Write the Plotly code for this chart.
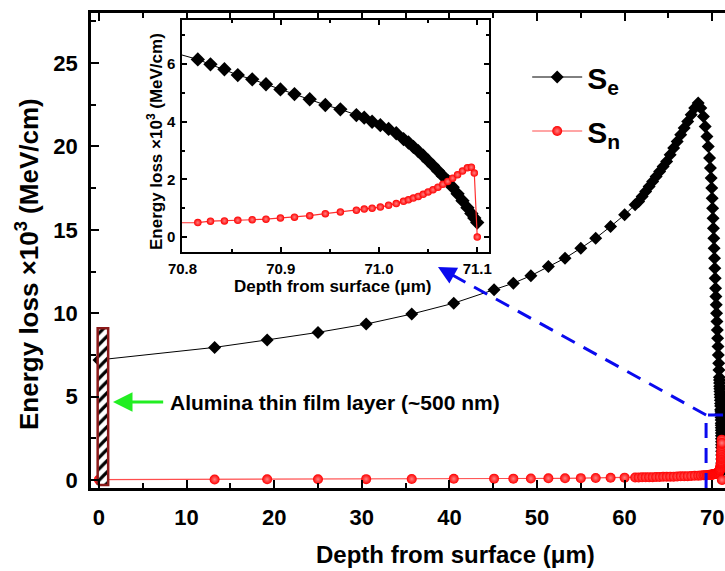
import plotly.graph_objects as go

# ---------------- data ----------------
depth = [0.0, 13.2, 19.2, 25.0, 30.5, 35.7, 40.5, 45.1, 47.3, 49.3, 51.3, 53.2, 55.0, 56.7, 58.4, 60.0, 61.2,
         61.6, 62.0, 62.4, 62.8, 63.2, 63.6, 64.0, 64.4, 64.8, 65.2, 65.6, 66.0, 66.4, 66.8, 67.2, 67.6, 68.0, 68.4,
         68.7, 69.0, 69.2, 69.4, 69.55, 69.7, 69.8, 69.88, 69.95, 70.0, 70.05, 70.1, 70.14, 70.18, 70.22, 70.26,
         70.3, 70.34, 70.38, 70.42, 70.46, 70.5, 70.54, 70.58, 70.62, 70.66, 70.7, 70.74, 70.77,
         70.8156, 70.8285, 70.8427, 70.8563, 70.871, 70.885, 70.8997, 70.914, 70.9295, 70.9454, 70.9607, 70.977,
         70.985, 70.993, 71.0014, 71.0098, 71.0176,
         71.025, 71.030, 71.035, 71.040, 71.045, 71.050, 71.055, 71.060, 71.065, 71.070, 71.075, 71.080,
         71.085, 71.090, 71.094, 71.097, 71.100]

se = [7.2, 7.95, 8.4, 8.85, 9.35, 9.95, 10.6, 11.4, 11.8, 12.25, 12.8, 13.3, 13.9, 14.5, 15.2, 15.9, 16.5,
      16.7, 17.0, 17.3, 17.6, 17.9, 18.2, 18.5, 18.8, 19.1, 19.5, 19.9, 20.3, 20.7, 21.1, 21.5, 21.9, 22.3, 22.6,
      22.3, 21.8, 21.2, 20.6, 20.0, 19.3, 18.7, 18.1, 17.5, 16.9, 16.3, 15.7, 15.1, 14.5, 13.9, 13.3,
      12.7, 12.1, 11.5, 11.0, 10.5, 10.0, 9.5, 9.0, 8.5, 8.0, 7.5, 7.0, 6.6,
      6.16, 5.99, 5.82, 5.62, 5.47, 5.30, 5.12, 4.96, 4.78, 4.58, 4.43, 4.23,
      4.14, 4.00, 3.88, 3.75, 3.60,
      3.40, 3.28, 3.13, 2.98, 2.82, 2.65, 2.48, 2.30, 2.12, 1.95, 1.73, 1.50,
      1.26, 1.02, 0.82, 0.66, 0.50]

sn = [0.02, 0.03, 0.04, 0.04, 0.05, 0.06, 0.07, 0.08, 0.08, 0.09, 0.10, 0.10, 0.11, 0.12, 0.13, 0.14, 0.15,
      0.15, 0.16, 0.16, 0.17, 0.17, 0.18, 0.18, 0.19, 0.19, 0.20, 0.20, 0.21, 0.22, 0.22, 0.23, 0.24, 0.25, 0.26,
      0.27, 0.28, 0.29, 0.29, 0.30, 0.31, 0.31, 0.32, 0.32, 0.33, 0.33, 0.34, 0.34, 0.35, 0.35, 0.36,
      0.36, 0.37, 0.38, 0.38, 0.39, 0.40, 0.41, 0.42, 0.43, 0.44, 0.45, 0.47, 0.48,
      0.50, 0.55, 0.56, 0.58, 0.60, 0.62, 0.66, 0.69, 0.74, 0.81, 0.87, 0.93,
      0.97, 1.00, 1.04, 1.10, 1.16,
      1.24, 1.29, 1.35, 1.41, 1.48, 1.56, 1.64, 1.73, 1.83, 1.93, 2.04, 2.16,
      2.29, 2.40, 2.42, 2.22, 0.0]

# alumina film marker (depth range and height of the hatched box)
film_left, film_right = -0.15, 1.05
film_bottom, film_top = -0.3, 9.1

# zoom box / pointer
zoom_x0, zoom_top = 69.3, 3.9
pointer_tail = (42.0, 11.81)
pointer_tip = (38.7, 12.77)

# ---------------- figure ----------------
FONT = "Liberation Sans, Arial, Helvetica, sans-serif"
BLACK = "#000000"
RED = "#ff0000"

fig = go.Figure()

# main chart
fig.add_trace(go.Scatter(
    x=depth, y=se, mode="lines+markers", name="S<sub>e</sub>", legendgroup="se",
    line=dict(color=BLACK, width=1),
    marker=dict(symbol="diamond", size=10, color=BLACK),
    xaxis="x", yaxis="y"))
fig.add_trace(go.Scatter(
    x=depth, y=sn, mode="lines+markers", name="S<sub>n</sub>", legendgroup="sn",
    line=dict(color="#ff4d4d", width=1.2),
    marker=dict(symbol="circle", size=10, color=RED,
                gradient=dict(type="radial", color="#ff8080")),
    xaxis="x", yaxis="y"))

# hatched alumina layer
fig.add_trace(go.Scatter(
    x=[film_left, film_right, film_right, film_left, film_left],
    y=[film_bottom, film_bottom, film_top, film_top, film_bottom],
    mode="lines", fill="toself", fillcolor="white",
    fillpattern=dict(shape="/", fgcolor=BLACK, fgopacity=1, bgcolor="white", size=8, solidity=0.4),
    line=dict(color="#8b1a1a", width=2.5),
    showlegend=False, hoverinfo="skip", xaxis="x", yaxis="y"))

# inset
fig.add_trace(go.Scatter(
    x=depth, y=se, mode="lines+markers", showlegend=False,
    line=dict(color=BLACK, width=1),
    marker=dict(symbol="diamond", size=11, color=BLACK),
    xaxis="x2", yaxis="y2"))
fig.add_trace(go.Scatter(
    x=depth, y=sn, mode="lines+markers", showlegend=False,
    line=dict(color="#ff3030", width=1.2),
    marker=dict(symbol="circle", size=7.5, color=RED,
                gradient=dict(type="radial", color="#ff8080")),
    xaxis="x2", yaxis="y2"))

main_axis = dict(showline=True, linecolor=BLACK, linewidth=2.5, ticks="inside", tickwidth=2,
                 ticklen=8, tickcolor=BLACK, showgrid=False, zeroline=False, automargin=False,
                 tickfont=dict(family=FONT, size=22, color=BLACK, weight="bold"))
inset_axis = dict(showline=True, linecolor=BLACK, linewidth=1.5, ticks="inside", tickwidth=1.5,
                  ticklen=5, tickcolor=BLACK, showgrid=False, zeroline=False, automargin=False,
                  mirror="ticks",
                  tickfont=dict(family=FONT, size=15, color=BLACK, weight="bold"))

fig.update_layout(
    width=725, height=571,
    margin=dict(l=91, r=0, t=13, b=83),
    paper_bgcolor="white", plot_bgcolor="white",
    font=dict(family=FONT, color=BLACK),
    xaxis=dict(main_axis, domain=[0, 1], range=[-0.91, 71.46], tick0=0, dtick=10, mirror="ticks",
               ticklabelstandoff=8,
               minor=dict(ticks="inside", ticklen=5, tickwidth=2, tickcolor=BLACK, dtick=5, tick0=0, showgrid=False)),
    yaxis=dict(main_axis, domain=[0, 1], range=[-0.48, 28.0], tick0=0, dtick=5, mirror=False,
               ticklabelstandoff=6,
               minor=dict(ticks="inside", ticklen=5, tickwidth=2, tickcolor=BLACK, dtick=2.5, tick0=0, showgrid=False)),
    xaxis2=dict(inset_axis, domain=[0.1435, 0.6278], anchor="y2", range=[70.7995, 71.112],
                tick0=70.8, dtick=0.1, tickformat=".1f", ticklabelstandoff=2,
                minor=dict(ticks="inside", ticklen=3, tickwidth=1.5, tickcolor=BLACK, dtick=0.05, tick0=70.8, showgrid=False)),
    yaxis2=dict(inset_axis, domain=[0.4968, 0.9853], anchor="x2", range=[-0.52, 7.53],
                tick0=0, dtick=2, ticklabelstandoff=2,
                minor=dict(ticks="inside", ticklen=3, tickwidth=1.5, tickcolor=BLACK, dtick=1, tick0=0, showgrid=False)),
    legend=dict(x=0.688, y=0.92, xanchor="left", yanchor="top", bgcolor="rgba(0,0,0,0)",
                font=dict(family=FONT, size=30, color=BLACK, weight="bold"),
                itemwidth=50, tracegroupgap=12),
    showlegend=True,
)

ann_font = dict(family=FONT, color=BLACK, weight="bold")
fig.add_annotation(text="Energy loss ×10<sup>3</sup> (MeV/cm)", xref="paper", yref="paper",
                   x=-0.0994, y=0.4716, textangle=-90, showarrow=False,
                   font=dict(ann_font, size=26), xanchor="center", yanchor="middle")
fig.add_annotation(text="Depth from surface (μm)", xref="paper", yref="paper",
                   x=0.5757, y=-0.141, showarrow=False,
                   font=dict(ann_font, size=24), xanchor="center", yanchor="middle")
fig.add_annotation(text="Energy loss ×10<sup>3</sup> (MeV/cm)", xref="paper", yref="paper",
                   x=0.101, y=0.7284, textangle=-90, showarrow=False,
                   font=dict(ann_font, size=17), xanchor="center", yanchor="middle")
fig.add_annotation(text="Depth from surface (μm)", xref="paper", yref="paper",
                   x=0.3817, y=0.4232, showarrow=False,
                   font=dict(ann_font, size=17), xanchor="center", yanchor="middle")
fig.add_annotation(text="Alumina thin film layer (~500 nm)", xref="x", yref="y",
                   x=7.88, y=4.62, showarrow=False, xanchor="left", yanchor="middle",
                   font=dict(ann_font, size=21))
fig.add_annotation(text="", xref="x", yref="y", axref="x", ayref="y",
                   x=1.6, y=4.68, ax=7.5, ay=4.68, showarrow=True,
                   arrowhead=2, arrowsize=1.3, arrowwidth=3, arrowcolor="#22ee22")
fig.add_annotation(text="", xref="x", yref="y", axref="x", ayref="y",
                   x=pointer_tip[0], y=pointer_tip[1], ax=pointer_tail[0], ay=pointer_tail[1],
                   showarrow=True, arrowhead=2, arrowsize=1.2, arrowwidth=3, arrowcolor="#0a0aee")

fig.add_shape(type="line", xref="x", yref="y", x0=zoom_x0, y0=zoom_top,
              x1=pointer_tail[0], y1=pointer_tail[1],
              line=dict(color="#0a0aee", width=3, dash="15px,10px"), layer="above")
fig.add_shape(type="path", xref="x", yref="y",
              path=f"M {zoom_x0},-0.48 L {zoom_x0},{zoom_top} L 72.5,{zoom_top}",
              line=dict(color="#0a0aee", width=3, dash="15px,10px"), layer="above")

fig.write_html("out.html", config={"displayModeBar": False},
               post_script="document.body.style.margin='0';document.body.style.overflow='hidden';")
